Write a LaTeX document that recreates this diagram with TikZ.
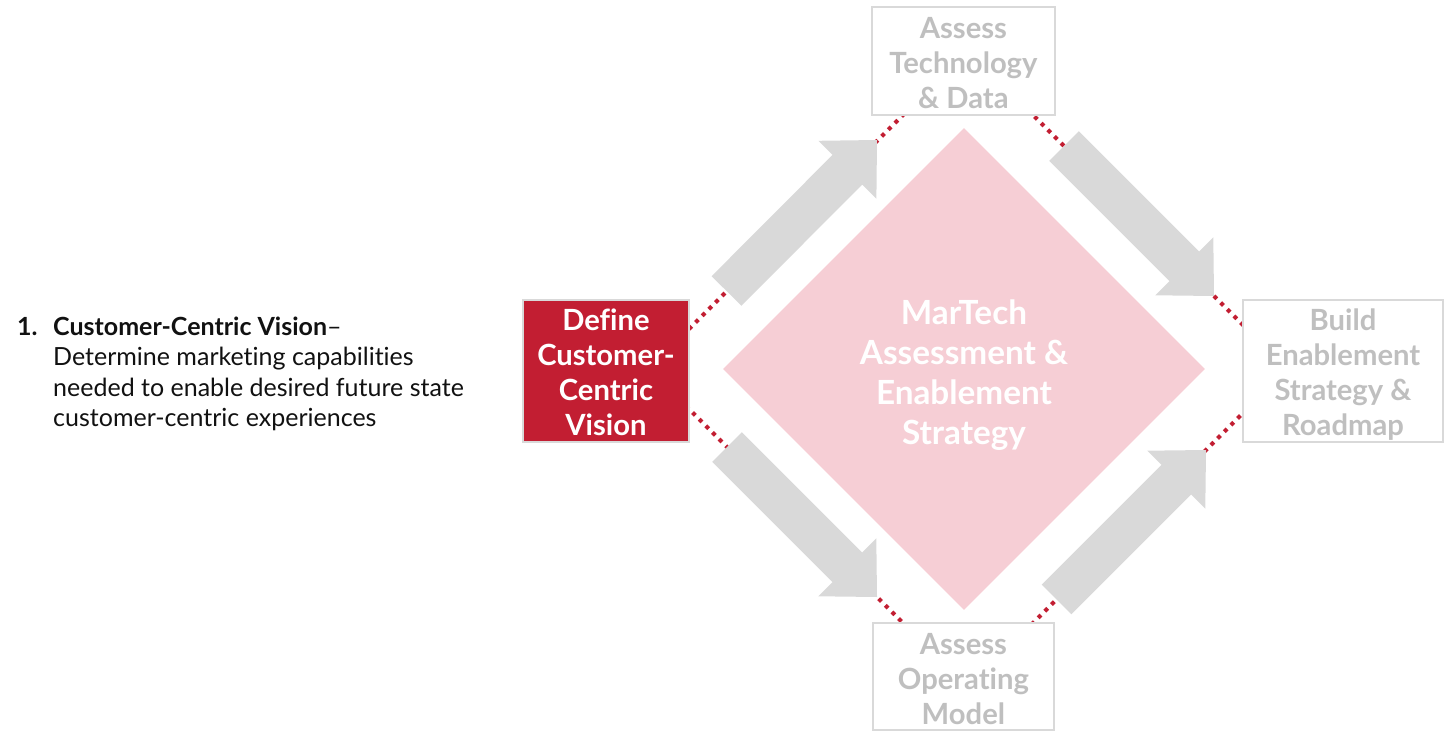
\documentclass[tikz,border=0pt]{standalone}
\usepackage{fontspec}
\setmainfont{Lato}[Ligatures=NoCommon]
\usetikzlibrary{calc,shapes.geometric}
\definecolor{cred}{HTML}{C21E32}
\definecolor{cgrayline}{HTML}{D9D9D9}
\definecolor{cgraytext}{HTML}{BFBFBF}
\definecolor{cpink}{HTML}{F6CED5}
\definecolor{carrow}{HTML}{D9D9D9}
\definecolor{ctext}{HTML}{111111}
\newcommand\blockarrow[2]{%
  \coordinate (#1n) at ($(#2)!42pt!(#1)$);
  \fill[arrowfill] ($(#1)!21pt!90:(#2)$) -- ($(#1n)!21pt!90:(#2)$) -- ($(#1n)!41pt!90:(#2)$)
    -- (#2) -- ($(#1n)!41pt!-90:(#2)$) -- ($(#1n)!21pt!-90:(#2)$) -- ($(#1)!21pt!-90:(#2)$) -- cycle;}
\begin{document}
\begin{tikzpicture}[x=1pt,y=1pt,
  stagebox/.style={draw=cgrayline, line width=2pt, fill=white, inner sep=0pt},
  activebox/.style={stagebox, fill=cred},
  boxtext/.style={text=cgraytext, font=\bfseries\fontsize{29.2}{35}\selectfont, align=center, inner sep=0pt},
  activetext/.style={boxtext, text=white},
  dotline/.style={draw=cred, line width=4pt, dash pattern=on 4pt off 5.4pt},
  arrowfill/.style={fill=carrow},
  bodytext/.style={anchor=base west, inner sep=0pt, text=ctext, font=\fontsize{25}{30}\selectfont},
]
\useasboundingbox (0,0) rectangle (1445,748);
% big dotted diamond
\coordinate (dL) at (649,379);
\coordinate (dT) at (968,698);
\coordinate (dR) at (1287,379);
\coordinate (dB) at (968,60);
\draw[dotline] (dL) -- (dT) -- (dR) -- (dB) -- cycle;
% central diamond
\node[diamond, fill=cpink, minimum width=482pt, minimum height=482pt, inner sep=0pt] (core) at (964,379) {};
\node[text=white, font=\bfseries\fontsize{33.3}{40}\selectfont, align=center, inner sep=0pt]
  (coretitle) at ([yshift=-6pt]core.center) {MarTech\\Assessment \&\\Enablement\\Strategy};
% block arrows
\coordinate (tlA) at (726.5,457); \coordinate (tlB) at (877,608);
\coordinate (trA) at (1064,602);  \coordinate (trB) at (1214,452);
\coordinate (blA) at (727,301);   \coordinate (blB) at (877,151);
\coordinate (brA) at (1056.5,148.5); \coordinate (brB) at (1206,298);
\blockarrow{tlA}{tlB}
\blockarrow{trA}{trB}
\blockarrow{blA}{blB}
\blockarrow{brA}{brB}
% boxes
\node[activebox, minimum width=166pt, minimum height=141pt] (vision) at (606,377) {};
\node[activetext] (visiontext) at ([yshift=-1.5pt]vision.center) {Define\\Customer-\\Centric\\Vision};
\node[stagebox, minimum width=183pt, minimum height=108pt] (tech) at (963.4,686.8) {};
\node[boxtext] (techtext) at ([yshift=-1.5pt]tech.center) {Assess\\Technology\\\& Data};
\node[stagebox, minimum width=200.6pt, minimum height=141.7pt] (road) at (1343,377) {};
\node[boxtext] (roadtext) at ([yshift=-3.5pt]road.center) {Build\\Enablement\\Strategy \&\\Roadmap};
\node[stagebox, minimum width=181.3pt, minimum height=106.7pt] (opmodel) at (963.4,71.3) {};
\node[boxtext] (opmodeltext) at ([yshift=-2.5pt]opmodel.center) {Assess\\Operating\\Model};
% left description
\node[bodytext, font=\bfseries\fontsize{25}{30}\selectfont] (num) at (17,412) {1.};
\node[bodytext] (l1) at (53,412) {\textbf{Customer-Centric Vision}–};
\node[bodytext] (l2) at (53,382) {Determine marketing capabilities};
\node[bodytext] (l3) at (53,352) {needed to enable desired future state};
\node[bodytext] (l4) at (53,322) {customer-centric experiences};
\end{tikzpicture}
\end{document}
